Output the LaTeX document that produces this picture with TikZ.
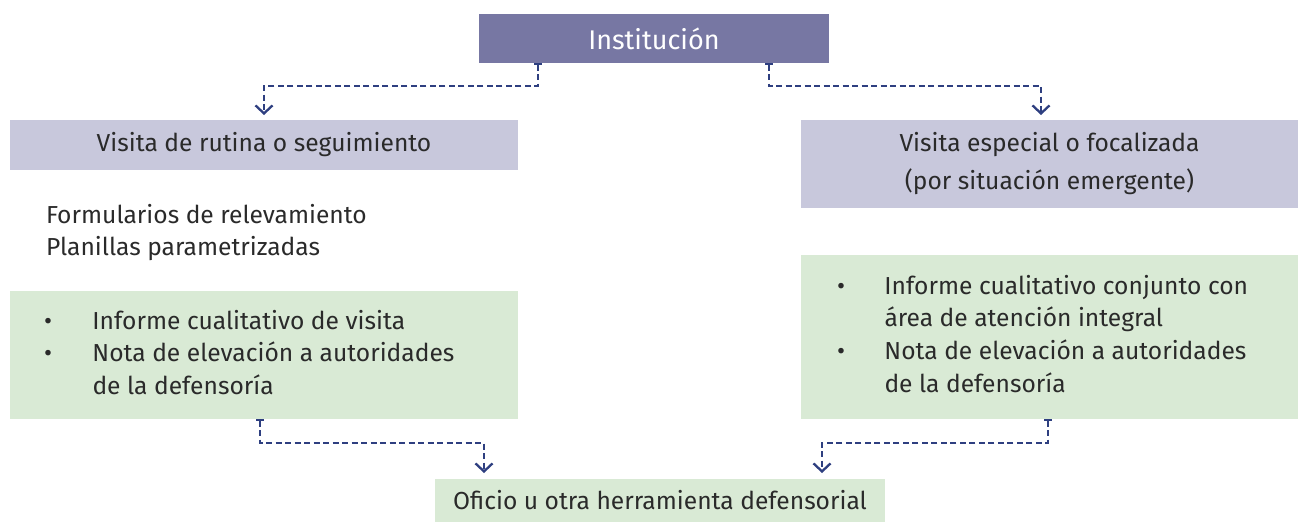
\documentclass[tikz,border=0pt]{standalone}
\usepackage{fontspec}
\setmainfont{Fira Sans}
\usetikzlibrary{arrows.meta}
\definecolor{instc}{HTML}{7777A3}
\definecolor{visc}{HTML}{C8C8DC}
\definecolor{grnc}{HTML}{D9EAD5}
\definecolor{linec}{HTML}{2E3F80}
\definecolor{txtc}{HTML}{2A2A2A}
\tikzset{
  box/.style={inner sep=0pt, outer sep=0pt, align=center, text=txtc, font=\fontsize{24.6}{38}\selectfont},
  conn/.style={linec, line width=2.3pt, dash pattern=on 6pt off 3.5pt,
    {Bar[width=8pt,line width=2.3pt]}-{Straight Barb[length=8pt,width=17pt,line width=2.3pt]}},
  txt/.style={inner sep=0pt, outer sep=0pt, anchor=base west, text=txtc, font=\fontsize{24.6}{32.8}\selectfont},
}
\begin{document}
\begin{tikzpicture}[x=1pt,y=-1pt]
\useasboundingbox (0,0) rectangle (1298,522);
\node[box, fill=instc, text=white, font=\fontsize{27}{32}\selectfont, minimum width=350pt, minimum height=49pt] (inst) at (654,38.5) {Institución};
\node[box, fill=visc, minimum width=508pt, minimum height=50pt] (rut) at (264,145) {Visita de rutina o seguimiento};
\node[box, fill=visc, minimum width=497pt, minimum height=88pt] (esp) at (1049.5,164) {Visita especial o focalizada\\(por situación emergente)};
\node[txt] (form) at (46,223) {\begin{tabular}[t]{@{}l@{}}Formularios de relevamiento\\Planillas parametrizadas\end{tabular}};
\node[box, fill=grnc, minimum width=508pt, minimum height=128pt] (lg) at (264,355) {};
\node[txt] (lgt) at (44,329) {\begin{tabular}[t]{@{}p{48.5pt}@{}l@{}}
\textbullet & Informe cualitativo de visita\\
\textbullet & Nota de elevación a autoridades\\
 & de la defensoría
\end{tabular}};
\node[box, fill=grnc, minimum width=497pt, minimum height=164pt] (rg) at (1049.5,337) {};
\node[txt] (rgt) at (837,294) {\begin{tabular}[t]{@{}p{47.5pt}@{}l@{}}
\textbullet & Informe cualitativo conjunto con\\
 & área de atención integral\\
\textbullet & Nota de elevación a autoridades\\
 & de la defensoría
\end{tabular}};
\node[box, fill=grnc, minimum width=450pt, minimum height=43pt] (ofi) at (660,500.5) {Oficio u otra herramienta defensorial};
\draw[conn] ([xshift=-116pt]inst.south) -- ++(0,23) -| ([yshift=5pt]rut.north);
\draw[conn] ([xshift=115pt]inst.south) -- ++(0,23) -| ([xshift=-8.5pt,yshift=5pt]esp.north);
\draw[conn] ([xshift=-4pt]lg.south) -- ++(0,24) -| ([xshift=-176pt,yshift=6pt]ofi.north);
\draw[conn] ([xshift=-1.5pt]rg.south) -- ++(0,24) -| ([xshift=162pt,yshift=6pt]ofi.north);
\end{tikzpicture}
\end{document}
